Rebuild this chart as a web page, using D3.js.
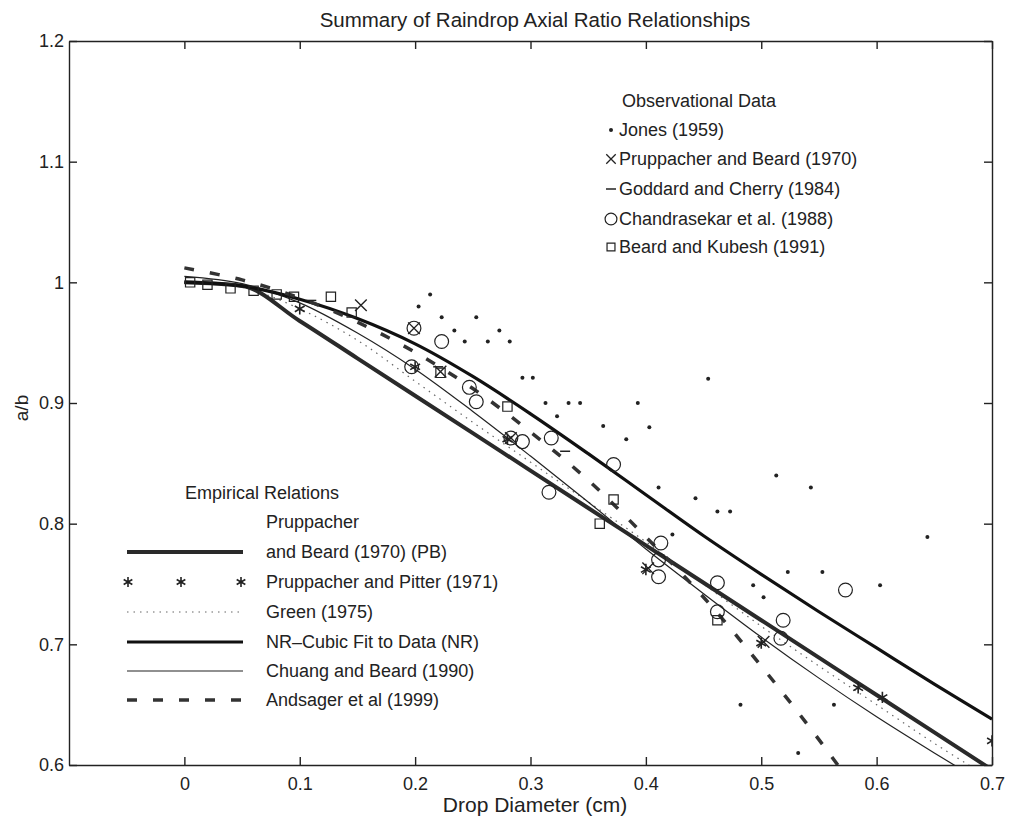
<!DOCTYPE html>
<html>
<head>
<meta charset="utf-8">
<script src="https://cdn.jsdelivr.net/npm/d3@7"></script>
<style>
body { margin: 0; background: #fff; }
text { font-family: "Liberation Sans", Arial, sans-serif; fill: #222; font-size: 18px; }
</style>
</head>
<body>
<svg id="chart"></svg>
<script>
// drop diameter grid (cm) for the empirical curves
const diam = [0, 0.05, 0.1, 0.15, 0.2, 0.25, 0.3, 0.35, 0.4, 0.45, 0.5, 0.55, 0.6, 0.65, 0.7];
const pbFit       = [1.0, 0.997, 0.968, 0.937, 0.906, 0.875, 0.844, 0.813, 0.782, 0.751, 0.72, 0.689, 0.658, 0.627, 0.596];
const greenFit    = [1.0, 0.996, 0.978, 0.952, 0.918, 0.884, 0.851, 0.818, 0.785, 0.75, 0.715, 0.682, 0.65, 0.618, 0.588];
const nrFit       = [1.0, 0.997, 0.986, 0.97, 0.949, 0.922, 0.891, 0.858, 0.824, 0.79, 0.758, 0.727, 0.697, 0.667, 0.638];
const chuangFit   = [1.005, 0.999, 0.983, 0.958, 0.928, 0.893, 0.856, 0.818, 0.779, 0.742, 0.706, 0.672, 0.64, 0.61, 0.581];
const andsagerFit = [1.012, 1.002, 0.987, 0.967, 0.942, 0.912, 0.876, 0.836, 0.789, 0.739, 0.682, 0.621, 0.555, 0.483, 0.407];

// Pruppacher and Pitter (1971) - plotted as markers only
const ppD = [0.1, 0.2, 0.28, 0.4, 0.5, 0.584, 0.605, 0.7];
const ppV = [0.978, 0.93, 0.87, 0.762, 0.701, 0.664, 0.656, 0.62];

// observational data
const jonesD = [0.213, 0.203, 0.223, 0.253, 0.234, 0.273, 0.243, 0.263, 0.282, 0.293, 0.302, 0.313, 0.333, 0.343, 0.323, 0.363, 0.383, 0.393, 0.403, 0.454, 0.411, 0.443, 0.462, 0.473, 0.513, 0.543, 0.644, 0.523, 0.553, 0.603, 0.493, 0.502, 0.482, 0.563, 0.532, 0.423];
const jonesV = [0.99, 0.98, 0.971, 0.971, 0.96, 0.96, 0.951, 0.951, 0.951, 0.921, 0.921, 0.9, 0.9, 0.9, 0.889, 0.881, 0.87, 0.9, 0.88, 0.92, 0.83, 0.821, 0.81, 0.81, 0.84, 0.83, 0.789, 0.76, 0.76, 0.749, 0.749, 0.739, 0.65, 0.65, 0.61, 0.791];
const pbObsD = [0.153, 0.199, 0.222, 0.283, 0.402, 0.502];
const pbObsV = [0.981, 0.962, 0.926, 0.871, 0.763, 0.702];
const goddardD = [0.11, 0.22, 0.33];
const goddardV = [0.985, 0.93, 0.86];
const chandraD = [0.199, 0.223, 0.197, 0.247, 0.253, 0.283, 0.293, 0.318, 0.316, 0.372, 0.413, 0.411, 0.411, 0.462, 0.462, 0.519, 0.517, 0.573];
const chandraV = [0.962, 0.951, 0.93, 0.913, 0.901, 0.871, 0.868, 0.871, 0.826, 0.849, 0.784, 0.77, 0.756, 0.751, 0.727, 0.72, 0.705, 0.745];
const kubeshD = [0.005, 0.02, 0.04, 0.06, 0.08, 0.095, 0.127, 0.145, 0.222, 0.28, 0.36, 0.372, 0.462];
const kubeshV = [1.0, 0.998, 0.995, 0.993, 0.99, 0.988, 0.988, 0.975, 0.925, 0.897, 0.8, 0.82, 0.72];

const xTicks = [0, 0.1, 0.2, 0.3, 0.4, 0.5, 0.6, 0.7];
const yTicks = [0.6, 0.7, 0.8, 0.9, 1.0, 1.1, 1.2];

const svg = d3.select("#chart")
    .attr("width", 1012)
    .attr("height", 819);

const x = d3.scaleLinear().domain([-0.1, 0.7]).range([69, 992]);
const y = d3.scaleLinear().domain([0.6, 1.2]).range([765, 41]);

svg.append("clipPath").attr("id", "plotclip")
    .append("rect")
    .attr("x", 69).attr("y", 41)
    .attr("width", 923).attr("height", 724);

const fmt = d3.format("~g");

// box with inward ticks on all sides
function styleAxis(g) {
    g.select(".domain").attr("stroke", "#222").attr("stroke-width", 1.4);
    g.selectAll(".tick line").attr("stroke", "#222").attr("stroke-width", 1.4);
    g.selectAll(".tick text").attr("fill", "#222").style("font-size", "18px")
        .style("font-family", "'Liberation Sans', Arial, sans-serif");
}

svg.append("g")
    .attr("transform", "translate(0,765)")
    .call(d3.axisBottom(x).tickValues(xTicks).tickFormat(fmt).tickSizeInner(-8).tickSizeOuter(0).tickPadding(12))
    .call(styleAxis);
svg.append("g")
    .attr("transform", "translate(0,41)")
    .call(d3.axisTop(x).tickValues(xTicks).tickFormat("").tickSizeInner(-8).tickSizeOuter(0))
    .call(styleAxis);
svg.append("g")
    .attr("transform", "translate(69,0)")
    .call(d3.axisLeft(y).tickValues(yTicks).tickFormat(fmt).tickSizeInner(-8).tickSizeOuter(0).tickPadding(5))
    .call(styleAxis);
svg.append("g")
    .attr("transform", "translate(992,0)")
    .call(d3.axisRight(y).tickValues(yTicks).tickFormat("").tickSizeInner(-8).tickSizeOuter(0))
    .call(styleAxis);

// titles
svg.append("text").attr("x", 535).attr("y", 27).attr("text-anchor", "middle")
    .style("font-size", "20.5px")
    .text("Summary of Raindrop Axial Ratio Relationships");
svg.append("text").attr("x", 535).attr("y", 812).attr("text-anchor", "middle")
    .style("font-size", "21px")
    .text("Drop Diameter (cm)");
svg.append("text").attr("transform", "translate(28,408) rotate(-90)").attr("text-anchor", "middle")
    .style("font-size", "19px")
    .text("a/b");

const plot = svg.append("g").attr("clip-path", "url(#plotclip)");

const smooth = d3.line()
    .x(d => x(d[0]))
    .y(d => y(d[1]))
    .curve(d3.curveCatmullRom.alpha(0.5));
const mono = d3.line()
    .x(d => x(d[0]))
    .y(d => y(d[1]))
    .curve(d3.curveMonotoneX);

const curves = [
    { vals: greenFit, stroke: "#666", width: 1.2, dash: "1.5,5", gen: smooth },
    { vals: chuangFit, stroke: "#222", width: 1.2, dash: null, gen: smooth },
    { vals: pbFit, stroke: "#2a2a2a", width: 4, dash: null, gen: mono },
    { vals: nrFit, stroke: "#111", width: 3.2, dash: null, gen: smooth },
    { vals: andsagerFit, stroke: "#333", width: 3.5, dash: "10,16", gen: smooth }
];

curves.forEach(function (c) {
    plot.append("path")
        .datum(diam.map((d, i) => [d, c.vals[i]]))
        .attr("fill", "none")
        .attr("stroke", c.stroke)
        .attr("stroke-width", c.width)
        .attr("stroke-dasharray", c.dash)
        .attr("d", c.gen);
});

// markers
function drawSymbols(ds, vs, type, size, width) {
    plot.selectAll(null)
        .data(ds.map((d, i) => [d, vs[i]]))
        .enter().append("path")
        .attr("transform", d => `translate(${x(d[0])},${y(d[1])})`)
        .attr("d", d3.symbol().type(type).size(size))
        .attr("fill", "none")
        .attr("stroke", "#222")
        .attr("stroke-width", width);
}

plot.selectAll(".jones")
    .data(jonesD.map((d, i) => [d, jonesV[i]]))
    .enter().append("circle")
    .attr("cx", d => x(d[0]))
    .attr("cy", d => y(d[1]))
    .attr("r", 2)
    .attr("fill", "#222");

plot.selectAll(".goddard")
    .data(goddardD.map((d, i) => [d, goddardV[i]]))
    .enter().append("line")
    .attr("x1", d => x(d[0]) - 5).attr("x2", d => x(d[0]) + 5)
    .attr("y1", d => y(d[1])).attr("y2", d => y(d[1]))
    .attr("stroke", "#222").attr("stroke-width", 1.5);

drawSymbols(chandraD, chandraV, d3.symbolCircle, 150, 1.2);
drawSymbols(kubeshD, kubeshV, d3.symbolSquare2, 110, 1.2);
drawSymbols(pbObsD, pbObsV, d3.symbolTimes, 90, 1.4);
drawSymbols(ppD, ppV, d3.symbolAsterisk, 90, 1.6);

// observational legend
const obsX = 611;
svg.append("text").attr("x", 622).attr("y", 107).text("Observational Data");
const obsNames = ["Jones (1959)", "Pruppacher and Beard (1970)", "Goddard and Cherry (1984)",
    "Chandrasekar et al. (1988)", "Beard and Kubesh (1991)"];
const obsRows = [130, 159, 189, 219, 247];
obsNames.forEach(function (name, i) {
    svg.append("text").attr("x", 619).attr("y", obsRows[i] + 6).text(name);
});
svg.append("circle").attr("cx", obsX).attr("cy", obsRows[0]).attr("r", 2).attr("fill", "#222");
svg.append("path").attr("transform", `translate(${obsX},${obsRows[1]})`)
    .attr("d", d3.symbol().type(d3.symbolTimes).size(60)).attr("fill", "none").attr("stroke", "#222").attr("stroke-width", 1.3);
svg.append("line").attr("x1", obsX - 5).attr("x2", obsX + 5).attr("y1", obsRows[2]).attr("y2", obsRows[2])
    .attr("stroke", "#222").attr("stroke-width", 1.5);
svg.append("path").attr("transform", `translate(${obsX},${obsRows[3]})`)
    .attr("d", d3.symbol().type(d3.symbolCircle).size(110)).attr("fill", "none").attr("stroke", "#222").attr("stroke-width", 1.2);
svg.append("path").attr("transform", `translate(${obsX},${obsRows[4]})`)
    .attr("d", d3.symbol().type(d3.symbolSquare2).size(80)).attr("fill", "none").attr("stroke", "#222").attr("stroke-width", 1.2);

// empirical legend
svg.append("text").attr("x", 185).attr("y", 499).text("Empirical Relations");
svg.append("text").attr("x", 266).attr("y", 528).text("Pruppacher");
const empNames = ["and Beard (1970) (PB)", "Pruppacher and Pitter (1971)", "Green (1975)",
    "NR\u2013Cubic Fit to Data (NR)", "Chuang and Beard (1990)", "Andsager et al (1999)"];
const empRows = [552, 582, 612, 642, 671, 700];
empNames.forEach(function (name, i) {
    svg.append("text").attr("x", 266).attr("y", empRows[i] + 6).text(name);
});
const legStyles = [curves[2], null, curves[0], curves[3], curves[1], curves[4]];
legStyles.forEach(function (c, i) {
    if (!c) return;
    svg.append("line")
        .attr("x1", 127).attr("x2", 243)
        .attr("y1", empRows[i]).attr("y2", empRows[i])
        .attr("stroke", c.stroke)
        .attr("stroke-width", c.width)
        .attr("stroke-dasharray", c.dash);
});
[128, 181, 241].forEach(function (px) {
    svg.append("path").attr("transform", `translate(${px},${empRows[1]})`)
        .attr("d", d3.symbol().type(d3.symbolAsterisk).size(70))
        .attr("fill", "none").attr("stroke", "#222").attr("stroke-width", 1.6);
});
</script>
</body>
</html>
